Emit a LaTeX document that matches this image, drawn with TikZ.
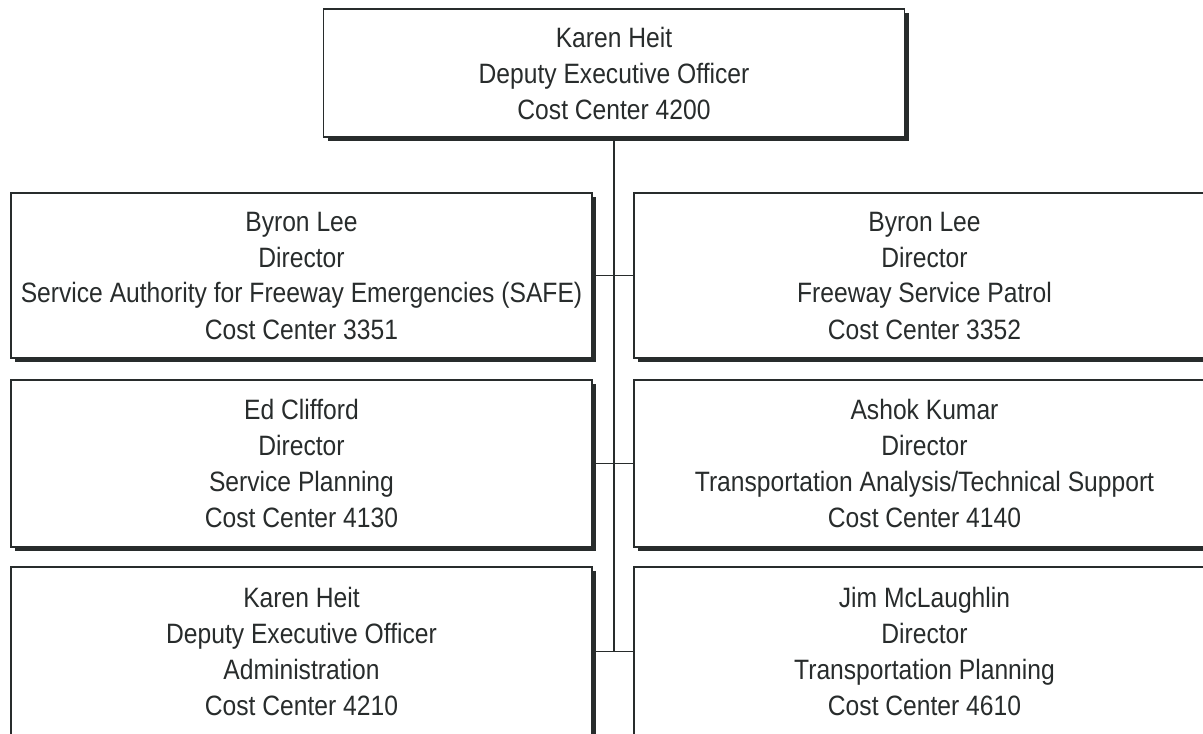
\documentclass[tikz,border=0pt]{standalone}
\usepackage{fontspec}
\setmainfont[FakeStretch=0.88]{Liberation Sans}
\usetikzlibrary{shadows}
\definecolor{ink}{RGB}{40,44,44}
\begin{document}
\begin{tikzpicture}[x=1pt,y=-1pt,
  box/.style={draw=ink, line width=1.5pt, fill=white, minimum width=581pt,
    align=center, inner sep=0pt, text=ink, font=\fontsize{28}{36}\selectfont,
    drop shadow={shadow xshift=4pt, shadow yshift=-4pt, fill=ink, opacity=1}},
  link/.style={draw=ink, line width=1.5pt}]
\useasboundingbox (0,0) rectangle (1203,734);
\clip (0,0) rectangle (1203,734);
\node[box, minimum height=128pt] (top) at (614,73)
  {Karen Heit\\Deputy Executive Officer\\Cost Center 4200};
\node[box, minimum height=165pt] (l1) at (301.5,275.5)
  {Byron Lee\\Director\\Service Authority for Freeway Emergencies (SAFE)\\Cost Center 3351};
\node[box, minimum height=165pt] (r1) at (924.5,275.5)
  {Byron Lee\\Director\\Freeway Service Patrol\\Cost Center 3352};
\node[box, minimum height=167pt] (l2) at (301.5,463.5)
  {Ed Clifford\\Director\\Service Planning\\Cost Center 4130};
\node[box, minimum height=167pt] (r2) at (924.5,463.5)
  {Ashok Kumar\\Director\\Transportation Analysis/Technical Support\\Cost Center 4140};
\node[box, minimum height=169pt] (l3) at (301.5,651.5)
  {Karen Heit\\Deputy Executive Officer\\Administration\\Cost Center 4210};
\node[box, minimum height=169pt] (r3) at (924.5,651.5)
  {Jim McLaughlin\\Director\\Transportation Planning\\Cost Center 4610};
\draw[link] (top.south) -- (top.south |- l3.east);
\draw[link] (l1.east) -- (r1.west);
\draw[link] (l2.east) -- (r2.west);
\draw[link] (l3.east) -- (r3.west);
\end{tikzpicture}
\end{document}
